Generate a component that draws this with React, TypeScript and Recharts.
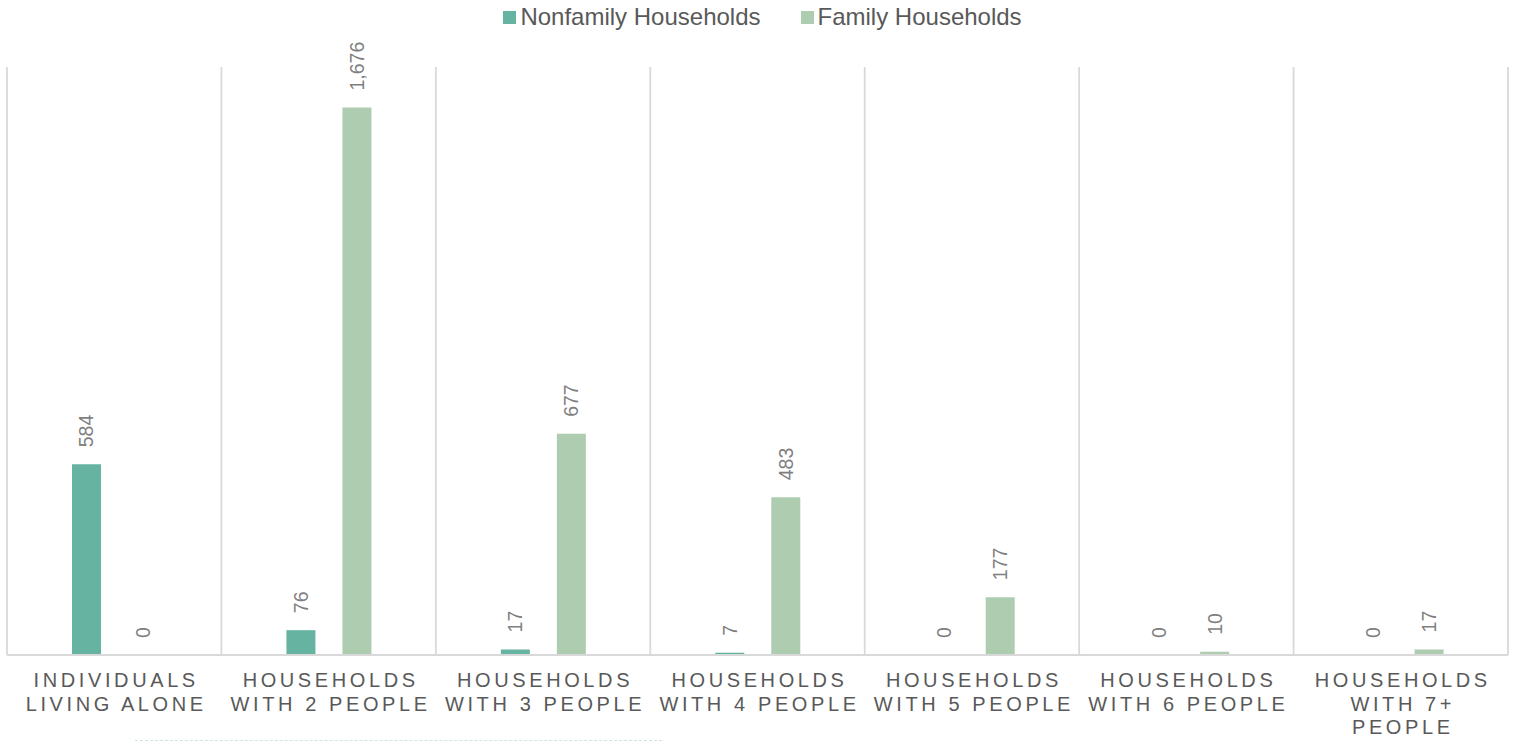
import {
  Bar,
  BarChart,
  CartesianGrid,
  LabelList,
  XAxis,
  YAxis,
} from "recharts";

const categories = [
  "Individuals Living Alone",
  "Households with 2 People",
  "Households with 3 People",
  "Households with 4 People",
  "Households with 5 People",
  "Households with 6 People",
  "Households with 7+ People",
];
const tickLines = [
  ["INDIVIDUALS", "LIVING ALONE"],
  ["HOUSEHOLDS", "WITH 2 PEOPLE"],
  ["HOUSEHOLDS", "WITH 3 PEOPLE"],
  ["HOUSEHOLDS", "WITH 4 PEOPLE"],
  ["HOUSEHOLDS", "WITH 5 PEOPLE"],
  ["HOUSEHOLDS", "WITH 6 PEOPLE"],
  ["HOUSEHOLDS", "WITH 7+", "PEOPLE"],
];
const nonfamily = [584, 76, 17, 7, 0, 0, 0];
const family = [0, 1676, 677, 483, 177, 10, 17];
const series = [
  { key: "nonfamily", name: "Nonfamily Households", color: "#65b3a0" },
  { key: "family", name: "Family Households", color: "#aecdb0" },
];
const gridTicks = [0, 1, 2, 3, 4, 5, 6, 7];

const data = categories.map((name, i) => ({
  name,
  idx: i,
  nonfamily: nonfamily[i],
  family: family[i],
}));

const FONT = "'Liberation Sans', Arial, sans-serif";

function CategoryTick({ x, y, payload }: any) {
  const lines = tickLines[payload.index] ?? [payload.value];
  return (
    <text
      x={x + 2}
      y={y + 32}
      textAnchor="middle"
      fill="#595959"
      fontFamily={FONT}
      fontSize={20}
      letterSpacing={3.6}
    >
      {lines.map((l, i) => (
        <tspan key={i} x={x + 2} dy={i === 0 ? 0 : 23.5}>
          {l}
        </tspan>
      ))}
    </text>
  );
}

function RotatedLabel({ x, y, width, height, value }: any) {
  const cx = Number(x) + Number(width) / 2;
  // bars drawn with minPointSize: measure from the true top (y + height) for zero values
  const top = Number(value) === 0 ? Number(y) + Number(height) : Number(y);
  const cy = top - 17;
  return (
    <text
      x={cx}
      y={cy}
      transform={`rotate(-90 ${cx} ${cy})`}
      textAnchor="start"
      dominantBaseline="central"
      fill="#7f7f7f"
      fontFamily={FONT}
      fontSize={19.5}
    >
      {Number(value).toLocaleString("en-US")}
    </text>
  );
}

export default function App() {
  return (
    <div
      style={{
        position: "absolute",
        left: 0,
        top: 0,
        width: 1517,
        height: 742,
        background: "#fff",
        fontFamily: FONT,
      }}
    >
      <div
        style={{
          position: "absolute",
          top: 4,
          left: 0,
          width: 1517,
          display: "flex",
          justifyContent: "center",
          gap: 40,
          paddingLeft: 8,
          boxSizing: "border-box",
        }}
      >
        {series.map((s) => (
          <div
            key={s.key}
            style={{ display: "flex", alignItems: "center", gap: 4 }}
          >
            <span
              style={{
                width: 13,
                height: 13,
                background: s.color,
                display: "inline-block",
              }}
            />
            <span style={{ fontSize: 24, color: "#595959", lineHeight: "26px" }}>
              {s.name}
            </span>
          </div>
        ))}
      </div>
      <BarChart
        width={1517}
        height={742}
        data={data}
        margin={{ top: 67, right: 9, left: 7, bottom: 0 }}
        barSize={29}
        barGap={27}
      >
        <XAxis
          xAxisId="grid"
          type="number"
          dataKey="idx"
          domain={[0, 7]}
          ticks={gridTicks}
          hide
        />
        <CartesianGrid
          xAxisId="grid"
          horizontal={false}
          stroke="#d9d9d9"
          strokeWidth={1.8}
        />
        <XAxis
          dataKey="name"
          height={87}
          interval={0}
          tickLine={false}
          tickSize={0}
          tickMargin={0}
          axisLine={{ stroke: "#d9d9d9", strokeWidth: 1.8 }}
          tick={<CategoryTick />}
        />
        <YAxis hide domain={[0, 1800]} />
        {series.map((s) => (
          <Bar
            key={s.key}
            dataKey={s.key}
            name={s.name}
            fill={s.color}
            minPointSize={0.01}
            isAnimationActive={false}
          >
            <LabelList dataKey={s.key} content={<RotatedLabel />} />
          </Bar>
        ))}
      </BarChart>
      <div
        style={{
          position: "absolute",
          left: 135,
          top: 740,
          width: 527,
          borderTop: "1px dashed #cfe8d6",
        }}
      />
    </div>
  );
}
